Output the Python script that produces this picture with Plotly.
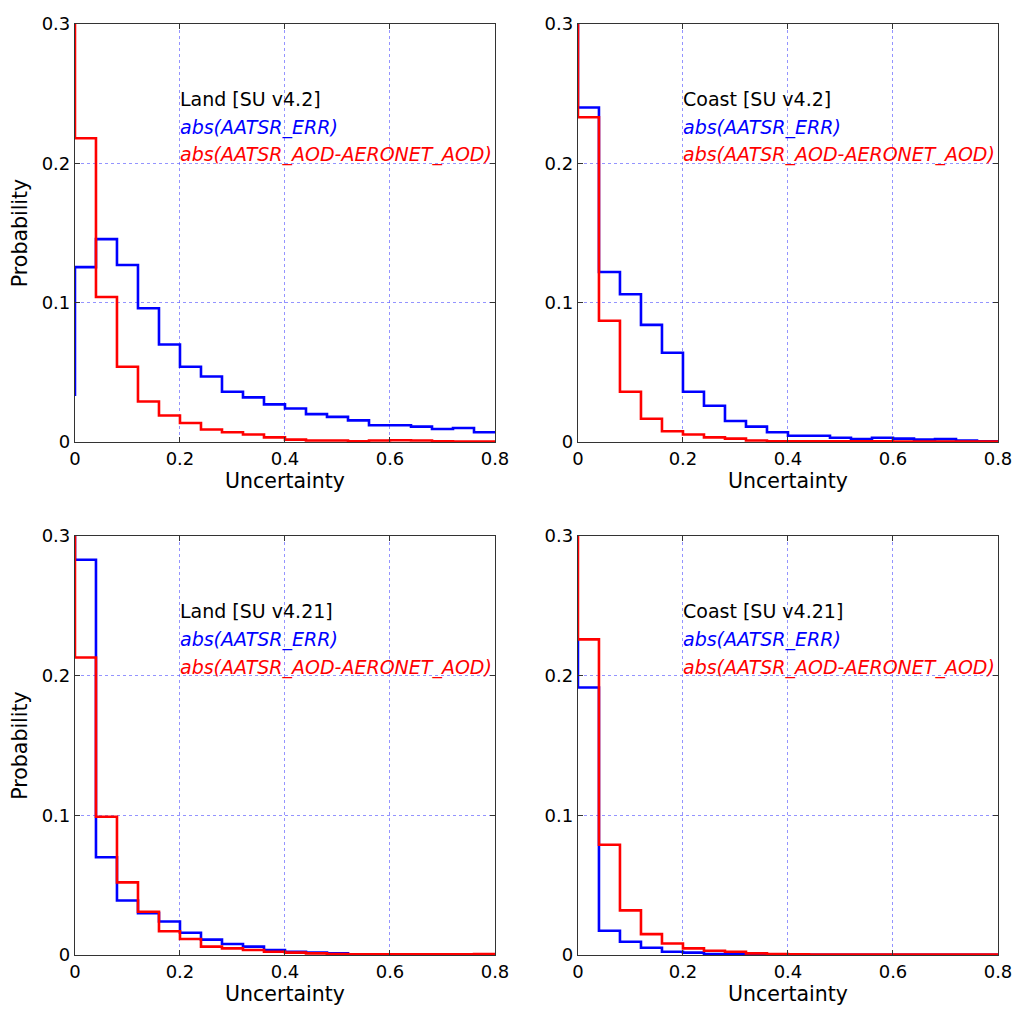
import plotly.graph_objects as go
from plotly.subplots import make_subplots

# bin edges shared by every histogram (width 0.04)
bin_edges = [round(0.04 * i, 2) for i in range(21)]

panel_titles = ['Land [SU v4.2]', 'Coast [SU v4.2]', 'Land [SU v4.21]', 'Coast [SU v4.21]']
err_label = 'abs(AATSR_ERR)'
diff_label = 'abs(AATSR_AOD-AERONET_AOD)'

# value where each step line starts at x=0 (red ones run off the top)
err_start = [0.033, 0.31, 0.31, 0.226]
diff_start = [0.35, 0.35, 0.35, 0.35]

# abs(AATSR_ERR) probabilities per bin
err_land_42 = [0.1255, 0.1456, 0.127, 0.096, 0.070, 0.054, 0.047, 0.036, 0.032, 0.027,
               0.024, 0.020, 0.018, 0.0155, 0.012, 0.012, 0.011, 0.0093, 0.010, 0.007]
err_coast_42 = [0.240, 0.122, 0.106, 0.084, 0.064, 0.036, 0.026, 0.015, 0.011, 0.007,
                0.0045, 0.0045, 0.003, 0.002, 0.003, 0.0024, 0.0017, 0.002, 0.001, 0.0005]
err_land_421 = [0.283, 0.070, 0.039, 0.030, 0.024, 0.016, 0.011, 0.0079, 0.006, 0.0036,
                0.0024, 0.0017, 0.0012, 0.0005, 0.0003, 0.0003, 0.0002, 0.0002, 0.0002, 0.0002]
err_coast_421 = [0.1915, 0.0174, 0.0095, 0.0052, 0.0024, 0.0017, 0.0007, 0.0005, 0.0002, 0.0002,
                 0.0001, 0.0001, 0.0001, 0.0001, 0.0001, 0.0001, 0.0001, 0.0001, 0.0001, 0.0001]

# abs(AATSR_AOD-AERONET_AOD) probabilities per bin
diff_land_42 = [0.218, 0.104, 0.054, 0.029, 0.019, 0.0136, 0.0089, 0.007, 0.0053, 0.0033,
                0.0017, 0.001, 0.001, 0.0005, 0.001, 0.0012, 0.001, 0.0005, 0.0003, 0.0003]
diff_coast_42 = [0.233, 0.087, 0.036, 0.0167, 0.0077, 0.0053, 0.0033, 0.0024, 0.001, 0.0005,
                 0.0005, 0.0005, 0.0004, 0.0004, 0.0004, 0.0003, 0.0003, 0.0003, 0.0003, 0.0003]
diff_land_421 = [0.213, 0.099, 0.052, 0.031, 0.017, 0.0115, 0.006, 0.0048, 0.0036, 0.0024,
                 0.0017, 0.0012, 0.0007, 0.0005, 0.0005, 0.0005, 0.0005, 0.0005, 0.0005, 0.0007]
diff_coast_421 = [0.226, 0.079, 0.032, 0.015, 0.0083, 0.0048, 0.0031, 0.0024, 0.0012, 0.0007,
                  0.0005, 0.0003, 0.0003, 0.0003, 0.0003, 0.0003, 0.0003, 0.0003, 0.0003, 0.0003]

err_series = [err_land_42, err_coast_42, err_land_421, err_coast_421]
diff_series = [diff_land_42, diff_coast_42, diff_land_421, diff_coast_421]

x_ticks = [0, 0.2, 0.4, 0.6, 0.8]
x_tick_text = ['0', '0.2', '0.4', '0.6', '0.8']
y_ticks = [0, 0.1, 0.2, 0.3]
y_tick_text = ['0', '0.1', '0.2', '0.3']

FONT = 'DejaVu Sans'


def step_xy(start, vals):
    xs = [bin_edges[0]] + bin_edges
    ys = [start] + vals + [vals[-1]]
    return xs, ys


fig = make_subplots(rows=2, cols=2)

# the page body adds an 8px margin, so domains are shifted to compensate
x_domains = [[0.0654, 0.4756], [0.5566, 0.9668]]
y_domains = [[0.5733, 0.9843], [0.0688, 0.4808]]

for k in range(4):
    r, c = k // 2 + 1, k % 2 + 1
    for start, vals, col in [(err_start[k], err_series[k], '#0000ff'),
                             (diff_start[k], diff_series[k], '#ff0000')]:
        xs, ys = step_xy(start, vals)
        fig.add_trace(go.Scatter(x=xs, y=ys, mode='lines', line_shape='hv',
                                 line=dict(color=col, width=2.6), showlegend=False,
                                 hoverinfo='skip'), row=r, col=c)

    ax = '' if k == 0 else str(k + 1)
    for txt, yv, colr, ital in [(panel_titles[k], 0.246, 'black', False),
                                (err_label, 0.226, '#0000ff', True),
                                (diff_label, 0.206, '#ff0000', True)]:
        fig.add_annotation(x=0.2, y=yv, xref='x' + ax, yref='y' + ax, text=txt,
                           showarrow=False, xanchor='left', yanchor='middle',
                           xshift=-2,
                           font=dict(family=FONT, size=19, color=colr,
                                     style='italic' if ital else 'normal'))

    fig.update_xaxes(domain=x_domains[c - 1], range=[0, 0.8], tickvals=x_ticks,
                     ticktext=x_tick_text, row=r, col=c,
                     title=dict(text='Uncertainty', standoff=4,
                                font=dict(family=FONT, size=20.5, color='black')))
    fig.update_yaxes(domain=y_domains[r - 1], range=[0, 0.3], tickvals=y_ticks,
                     ticktext=y_tick_text, row=r, col=c,
                     title=dict(text='Probability' if c == 1 else '', standoff=9,
                                font=dict(family=FONT, size=20.5, color='black')))

axis_style = dict(showline=True, linecolor='#333333', linewidth=1.2, mirror='ticks',
                  ticks='inside', ticklen=5, tickcolor='#333333', automargin=False,
                  showgrid=True, gridcolor='rgba(90,90,255,0.65)', griddash='dot',
                  gridwidth=1.2, zeroline=False,
                  tickfont=dict(family=FONT, size=18, color='black'))
fig.update_xaxes(**axis_style)
fig.update_yaxes(**axis_style)

fig.update_layout(width=1024, height=1017, margin=dict(l=0, r=0, t=0, b=0),
                  paper_bgcolor='white', plot_bgcolor='white',
                  font=dict(family=FONT, color='black'))

fig.write_html('out.html')
